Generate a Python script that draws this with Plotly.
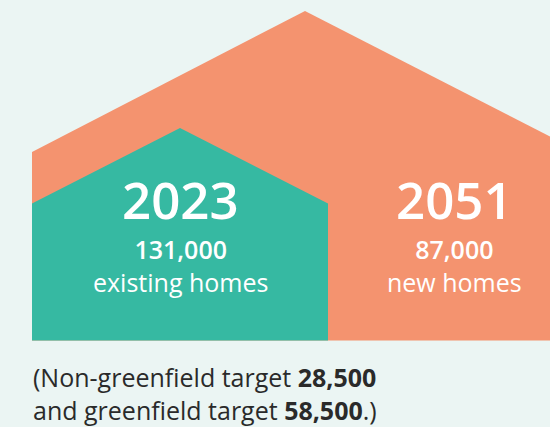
import plotly.graph_objects as go

# ---- data ----
years = ["2023", "2051"]
home_counts = ["131,000", "87,000"]
home_labels = ["existing homes", "new homes"]
note_line1 = ["(Non-greenfield target ", "28,500"]
note_line2 = ["and greenfield target ", "58,500", ".)"]

# ---- style ----
BG = "#ebf5f3"
SALMON = "#f4936f"
TEAL = "#36b9a2"
DARK = "#2a2a2a"
FONT = "Open Sans"

W, H = 550, 427
BASE = 340.5

# house outlines (layout geometry, pixel space)
big_x = [32, 32, 305, 580, 580, 32]
big_y = [BASE, 152, 11, 152, BASE, BASE]
small_x = [32, 32, 180, 328, 328, 32]
small_y = [BASE, 203.5, 128, 203.5, BASE, BASE]

fig = go.Figure()
fig.add_trace(go.Scatter(x=big_x, y=big_y, fill="toself", fillcolor=SALMON,
                         mode="lines", line=dict(width=0, color=SALMON),
                         hoverinfo="skip", showlegend=False))
fig.add_trace(go.Scatter(x=small_x, y=small_y, fill="toself", fillcolor=TEAL,
                         mode="lines", line=dict(width=0, color=TEAL),
                         hoverinfo="skip", showlegend=False))

centers = [180, 454]
ann = []
for cx, yr, cnt, lab in zip(centers, years, home_counts, home_labels):
    ann.append(dict(x=cx, y=199, text=yr, showarrow=False,
                    xanchor="center", yanchor="middle",
                    font=dict(family=FONT, size=51, color="white", weight=600)))
    ann.append(dict(x=cx, y=265,
                    text=f"<span style='font-weight:600'>{cnt}</span><br>{lab}",
                    showarrow=False, xanchor="center", yanchor="middle",
                    align="center",
                    font=dict(family=FONT, size=25, color="white")))

note = (f"{note_line1[0]}<b>{note_line1[1]}</b><br>"
        f"{note_line2[0]}<b>{note_line2[1]}</b>{note_line2[2]}")
ann.append(dict(x=31, y=393, text=note, showarrow=False,
                xanchor="left", yanchor="middle", align="left",
                font=dict(family=FONT, size=25, color=DARK)))

fig.update_layout(
    width=W, height=H,
    margin=dict(l=0, r=0, t=0, b=0),
    paper_bgcolor=BG, plot_bgcolor=BG,
    xaxis=dict(range=[0, W], visible=False, fixedrange=True),
    yaxis=dict(range=[H, 0], visible=False, fixedrange=True),
    annotations=ann,
    showlegend=False,
)
fig.write_html("out.html", config={"displayModeBar": False},
               post_script="document.body.style.margin='0';document.body.style.background='%s';" % BG)
